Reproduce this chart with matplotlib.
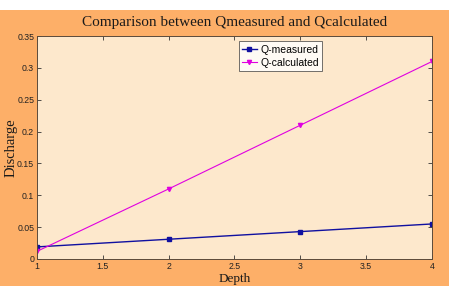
import matplotlib
matplotlib.use("Agg")
import matplotlib.pyplot as plt
from matplotlib.patches import Rectangle

depth = [1, 2, 3, 4]
q_measured = [0.019, 0.031, 0.043, 0.055]
q_calculated = [0.012, 0.110, 0.210, 0.310]
xticks = [1, 1.5, 2, 2.5, 3, 3.5, 4]
xticklabels = ["1", "1.5", "2", "2.5", "3", "3.5", "4"]
yticks = [0, 0.05, 0.1, 0.15, 0.2, 0.25, 0.3, 0.35]
yticklabels = ["0", "0.05", "0.1", "0.15", "0.2", "0.25", "0.3", "0.35"]

orange = "#FDAF68"
fig = plt.figure(figsize=(4.49, 2.86), dpi=100, facecolor=orange)
fig.patches.append(Rectangle((0, 1 - 10 / 286), 1, 10 / 286, transform=fig.transFigure,
                             facecolor="white", edgecolor="none", zorder=0))
ax = fig.add_axes([37 / 449, 27 / 286, 395 / 449, 223 / 286])
ax.set_facecolor("#FDE8CC")

ax.plot(depth, q_measured, color="#1010A0", marker="s", markersize=3, lw=1.0, label="Q-measured")
ax.plot(depth, q_calculated, color="#E000E0", marker="v", markersize=3, lw=0.8, label="Q-calculated")

ax.set_xlim(1, 4)
ax.set_ylim(0, 0.35)
ax.set_xticks(xticks)
ax.set_xticklabels(xticklabels)
ax.set_yticks(yticks)
ax.set_yticklabels(yticklabels)
ax.tick_params(direction="in", length=3, width=0.6, labelsize=6.3, pad=2,
               top=True, right=True, colors="#333333", labelcolor="#222222")
for lab in ax.get_xticklabels() + ax.get_yticklabels():
    lab.set_family("Liberation Sans")
for s in ax.spines.values():
    s.set_color("#5a4a3a")
    s.set_linewidth(0.7)

ax.set_title("Comparison between Qmeasured and Qcalculated", family="Liberation Serif",
             fontsize=11, color="#1a1a1a", pad=7)
ax.set_xlabel("Depth", family="Liberation Serif", fontsize=9.5, color="#1a1a1a")
ax.xaxis.set_label_coords(0.5, -14 / 223)
ax.set_ylabel("Discharge", family="Liberation Serif", fontsize=10.5, color="#1a1a1a")
ax.yaxis.set_label_coords(-19 / 395, 0.5)

leg = ax.legend(loc="upper center", bbox_to_anchor=(0.616, 0.985),
                prop={"family": "Liberation Sans", "size": 7.5},
                frameon=True, fancybox=False, edgecolor="#333333",
                handlelength=1.5, handletextpad=0.3, borderpad=0.3, labelspacing=0.3,
                borderaxespad=0.2)
leg.get_frame().set_linewidth(0.6)
leg.get_frame().set_facecolor("white")

fig.savefig("out.png", dpi=100, facecolor=fig.get_facecolor())
